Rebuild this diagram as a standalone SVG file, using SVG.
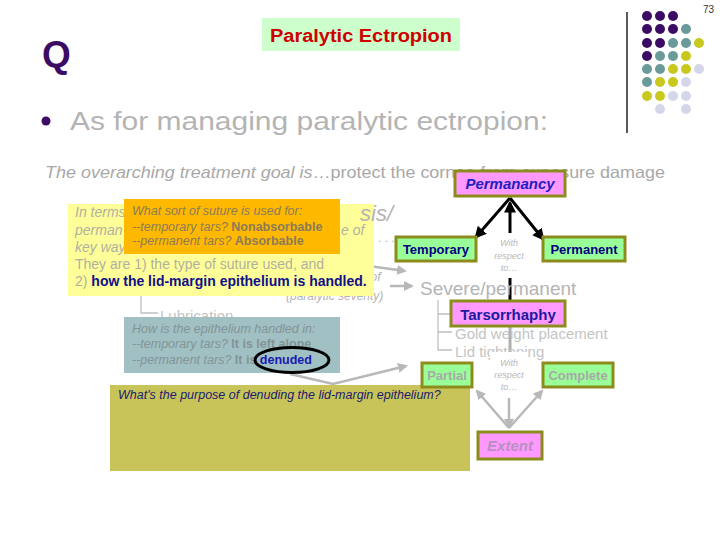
<svg xmlns="http://www.w3.org/2000/svg" width="720" height="540" viewBox="0 0 720 540">
<style>
text{font-family:"Liberation Sans",Arial,sans-serif}
.gray{fill:#b4b4b4}
.it{font-style:italic}
.b{font-weight:bold}
.pink{fill:#ff99ff;stroke:#8c8c1c;stroke-width:3}
.grn{fill:#99ff99;stroke:#8c8c1c;stroke-width:3}
.blk{stroke:#000;stroke-width:3;fill:none}
.gln{stroke:#b8b8b8;stroke-width:2.5;fill:none}
.tree{stroke:#c0c0c0;stroke-width:1.3;fill:none}
.wr{font-size:9px;font-style:italic;fill:#b8b8b8;text-anchor:middle}
.pu{fill:#3c0c64}.te{fill:#6a9a9a}.ye{fill:#c8c81e}.la{fill:#d6d6ea}
</style>
<defs>
<marker id="ab" viewBox="0 0 10 10" refX="8" refY="5" markerWidth="4" markerHeight="4" orient="auto"><path d="M0,0 L10,5 L0,10 z" fill="#000"/></marker>
<marker id="ag" viewBox="0 0 10 10" refX="8" refY="5" markerWidth="4" markerHeight="4" orient="auto"><path d="M0,0 L10,5 L0,10 z" fill="#b8b8b8"/></marker>
</defs>
<rect width="720" height="540" fill="#fff"/>
<text x="714" y="13" font-size="10" text-anchor="end" fill="#333">73</text>
<line x1="627" y1="12" x2="627" y2="133" stroke="#000" stroke-width="1.3"/>
<g id="dots">
<circle class="pu" cx="647" cy="16" r="5"/><circle class="pu" cx="660" cy="16" r="5"/><circle class="pu" cx="673" cy="16" r="5"/>
<circle class="pu" cx="647" cy="29" r="5"/><circle class="pu" cx="660" cy="29" r="5"/><circle class="pu" cx="673" cy="29" r="5"/><circle class="te" cx="686" cy="29" r="5"/>
<circle class="pu" cx="647" cy="43" r="5"/><circle class="pu" cx="660" cy="43" r="5"/><circle class="te" cx="673" cy="43" r="5"/><circle class="te" cx="686" cy="43" r="5"/><circle class="ye" cx="699" cy="43" r="5"/>
<circle class="pu" cx="647" cy="56" r="5"/><circle class="te" cx="660" cy="56" r="5"/><circle class="te" cx="673" cy="56" r="5"/><circle class="ye" cx="686" cy="56" r="5"/>
<circle class="te" cx="647" cy="69" r="5"/><circle class="te" cx="660" cy="69" r="5"/><circle class="ye" cx="673" cy="69" r="5"/><circle class="ye" cx="686" cy="69" r="5"/><circle class="la" cx="699" cy="69" r="5"/>
<circle class="te" cx="647" cy="82" r="5"/><circle class="ye" cx="660" cy="82" r="5"/><circle class="ye" cx="673" cy="82" r="5"/><circle class="la" cx="686" cy="82" r="5"/>
<circle class="ye" cx="647" cy="96" r="5"/><circle class="ye" cx="660" cy="96" r="5"/><circle class="la" cx="673" cy="96" r="5"/><circle class="la" cx="686" cy="96" r="5"/>
<circle class="la" cx="660" cy="109" r="5"/><circle class="la" cx="686" cy="109" r="5"/>
</g>
<text x="42" y="67" font-size="37" font-weight="bold" fill="#3c0c64">Q</text>
<g id="title">
<rect x="262" y="18" width="198" height="33" fill="#ccffcc"/>
<text x="361" y="42" font-size="18" class="b" fill="#d00000" text-anchor="middle" textLength="182" lengthAdjust="spacingAndGlyphs">Paralytic Ectropion</text>
</g>
<circle cx="46" cy="121" r="4.5" fill="#3c0c64"/>
<text x="70" y="130" font-size="26" class="gray" textLength="478" lengthAdjust="spacingAndGlyphs">As for managing paralytic ectropion:</text>
<text x="45" y="178" font-size="16.5" fill="#a8a8a8" textLength="620" lengthAdjust="spacingAndGlyphs"><tspan class="it">The overarching treatment goal is</tspan>…protect the cornea from exposure damage</text>
<!-- partly hidden background bits -->
<text x="370" y="281" font-size="13" class="gray it">of</text>
<text x="286" y="300" font-size="12" class="gray it">(paralytic severity)</text>
<text x="378" y="242" font-size="12" class="gray">. . . .</text>
<g id="connectors">
<line class="blk" x1="510" y1="198" x2="476" y2="237" marker-end="url(#ab)"/>
<line class="blk" x1="510" y1="198" x2="543" y2="239" marker-end="url(#ab)"/>
<line class="blk" x1="510" y1="233" x2="510" y2="203" marker-end="url(#ab)"/>
<line class="blk" x1="510" y1="278" x2="510" y2="300"/>
<line x1="510" y1="327" x2="510" y2="352" stroke="#b0b0b0" stroke-width="3"/>
<line class="gln" x1="509" y1="398" x2="509" y2="427" marker-end="url(#ag)"/>
<line class="gln" x1="509" y1="428" x2="477" y2="391" marker-end="url(#ag)"/>
<line class="gln" x1="509" y1="428" x2="542" y2="391" marker-end="url(#ag)"/>
<line class="gln" x1="340" y1="262" x2="405" y2="271" marker-end="url(#ag)"/>
<line class="gln" x1="390" y1="286" x2="412" y2="286" marker-end="url(#ag)"/>
<polyline class="gln" points="290,374 333,384 406,366" marker-end="url(#ag)"/>
<path class="tree" d="M141,296 V313 H158"/>
<path class="tree" d="M438,300 V350 H452 M438,314 H452 M438,332 H452"/>
</g>
<text x="160" y="321" font-size="15" fill="#c4c4c4">Lubrication</text>
<text x="420" y="295" font-size="19" class="gray">Severe/permanent</text>
<text x="455" y="339" font-size="15" fill="#c4c4c4">Gold weight placement</text>
<text x="455" y="357" font-size="15" fill="#c4c4c4">Lid tightening</text>
<g id="yellow-note">
<rect x="68" y="204" width="306" height="92" fill="#ffff99"/>
<g font-size="14" fill="#b0b0a0">
<text x="75" y="217" class="it">In terms</text>
<text x="75" y="235" class="it">perman</text>
<text x="341" y="235" class="it">e of</text>
<text x="75" y="252" class="it">key way</text>
<text x="75" y="269">They are 1) the type of suture used, and</text>
<text x="75" y="286">2) <tspan class="b" fill="#10108a">how the lid-margin epithelium is handled.</tspan></text>
</g>
</g>
<text x="360" y="221" font-size="22" class="gray it">sis/</text>
<g id="orange-note">
<rect x="124" y="199" width="216" height="55" fill="#ffb800"/>
<g font-size="12.5" fill="#8c7b5a">
<text x="132" y="215" class="it">What sort of suture is used for:</text>
<text x="132" y="231"><tspan class="it">--temporary tars? </tspan><tspan class="b">Nonabsorbable</tspan></text>
<text x="132" y="245"><tspan class="it">--permanent tars? </tspan><tspan class="b">Absorbable</tspan></text>
</g>
</g>
<g id="teal-note">
<rect x="124" y="317" width="216" height="56" fill="#a0c0c4"/>
<g font-size="12.5" fill="#849496">
<text x="132" y="333" class="it">How is the epithelium handled in:</text>
<text x="132" y="348"><tspan class="it">--temporary tars? </tspan><tspan class="b">It is left alone</tspan></text>
<text x="132" y="364"><tspan class="it">--permanent tars? </tspan><tspan class="b">It is </tspan><tspan class="b" fill="#1a1ab0">denuded</tspan></text>
</g>
<ellipse cx="292" cy="360" rx="37" ry="12.5" fill="none" stroke="#000" stroke-width="3"/>
</g>
<g id="question">
<rect x="110" y="385" width="360" height="86" fill="#c9c45a"/>
<text x="118" y="399" font-size="12.5" class="it" fill="#1a1a6e">What's the purpose of denuding the lid-margin epithelium?</text>
</g>
<g id="permanancy">
<rect class="pink" x="455" y="171" width="110" height="25"/>
<text x="510" y="189" font-size="15" class="it b" fill="#2020c0" text-anchor="middle">Permanancy</text>
</g>
<g id="temporary">
<rect class="grn" x="396" y="237" width="80" height="24"/>
<text x="436" y="254" font-size="13" class="b" fill="#000080" text-anchor="middle">Temporary</text>
</g>
<g id="permanent">
<rect class="grn" x="543" y="237" width="82" height="24"/>
<text x="584" y="254" font-size="13" class="b" fill="#000080" text-anchor="middle">Permanent</text>
</g>
<g id="wrt-upper">
<text class="wr" x="509" y="246">With</text>
<text class="wr" x="509" y="259">respect</text>
<text class="wr" x="509" y="271">to…</text>
</g>
<g id="tarsorrhaphy">
<rect class="pink" x="451" y="301" width="114" height="25"/>
<text x="508" y="320" font-size="15" class="b" fill="#1a1aa0" text-anchor="middle">Tarsorrhaphy</text>
</g>
<g id="wrt-lower">
<rect x="490" y="352" width="38" height="44" fill="#fff"/>
<text class="wr" x="509" y="366">With</text>
<text class="wr" x="509" y="378">respect</text>
<text class="wr" x="509" y="390">to…</text>
</g>
<g id="partial">
<rect class="grn" x="422" y="363" width="50" height="24"/>
<text x="447" y="380" font-size="13" class="b" fill="#a8a8a8" text-anchor="middle">Partial</text>
</g>
<g id="complete">
<rect class="grn" x="543" y="363" width="70" height="24"/>
<text x="578" y="380" font-size="13" class="b" fill="#a8a8a8" text-anchor="middle">Complete</text>
</g>
<g id="extent">
<rect class="pink" x="478" y="432" width="64" height="27"/>
<text x="510" y="451" font-size="15" class="it b" fill="#b890c0" text-anchor="middle">Extent</text>
</g>
</svg>
